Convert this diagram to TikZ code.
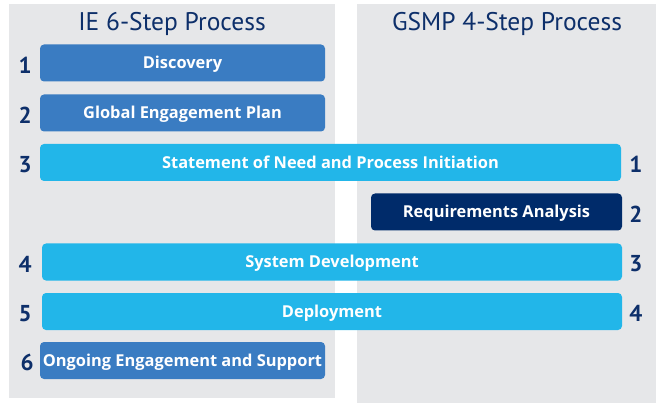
\documentclass[tikz,border=0pt]{standalone}
\usepackage{fontspec}
\setmainfont{PT Sans}
\newfontfamily\boxfont{Open Sans}
\usepackage{xcolor}
\usepackage{tikz}
\usetikzlibrary{positioning}
\definecolor{panelgray}{HTML}{E6E7E9}
\definecolor{ieblue}{HTML}{3A7CC2}
\definecolor{sharedcyan}{HTML}{22B6E9}
\definecolor{gsmpnavy}{HTML}{002B6A}
\definecolor{titlenavy}{HTML}{0D2F6A}
\tikzset{
  panel/.style     ={fill=panelgray, draw=none},
  headline/.style  ={text=titlenavy, font=\fontsize{25.5}{27}\selectfont},
  stepbox/.style   ={rectangle, rounded corners=4pt, text=white, text centered,
                     minimum height=37pt, inner sep=0pt, text height=12pt, text depth=0pt,
                     font=\boxfont\fontsize{16.4}{18}\selectfont\bfseries},
  ieblock/.style   ={stepbox, fill=ieblue},
  shared/.style    ={stepbox, fill=sharedcyan},
  gsmpblock/.style ={stepbox, fill=gsmpnavy},
  stepnum/.style   ={text=titlenavy, inner sep=0pt, yshift=-2pt,
                     font=\fontsize{23}{25}\selectfont\bfseries},
}

\begin{document}
\begin{tikzpicture}[x=1pt, y=-1pt]

  \useasboundingbox (0,0) rectangle (658,403);

  % two column backgrounds
  \fill[panel] (9,4)   rectangle (335,398);
  \fill[panel] (357,4) rectangle (656,403);

  \node[headline] (ietitle)   at (172,24) {IE 6-Step Process};
  \node[headline] (gsmptitle) at (507,24) {GSMP 4-Step Process};

  \node[ieblock, minimum width=285pt]   (disc)   at (182.5,63)   {Discovery};
  \node[ieblock, minimum width=285pt]   (gep)    at (182.5,113)  {Global Engagement Plan};
  \node[shared, minimum width=581pt]    (son)    at (330.5,162.5){Statement of Need and Process Initiation};
  \node[gsmpblock, minimum width=251pt] (req)    at (496.5,212)  {Requirements Analysis};
  \node[shared, minimum width=580pt]    (sysdev) at (332,262)    {System Development};
  \node[shared, minimum width=580pt]    (deploy) at (332,311.5)  {Deployment};
  \node[ieblock, minimum width=285pt]   (ongo)   at (182.5,360.5){Ongoing Engagement and Support};

  % IE step numbers
  \node[stepnum, left=8pt of disc]   (ie1) {1};
  \node[stepnum, left=8pt of gep]    (ie2) {2};
  \node[stepnum, left=8pt of son]    (ie3) {3};
  \node[stepnum, left=10pt of sysdev](ie4) {4};
  \node[stepnum, left=10pt of deploy](ie5) {5};
  \node[stepnum, left=6pt of ongo]   (ie6) {6};

  % GSMP step numbers
  \node[stepnum, right=8pt of son]    (g1) {1};
  \node[stepnum, right=7pt of req]    (g2) {2};
  \node[stepnum, right=7pt of sysdev] (g3) {3};
  \node[stepnum, right=7pt of deploy] (g4) {4};

\end{tikzpicture}
\end{document}
